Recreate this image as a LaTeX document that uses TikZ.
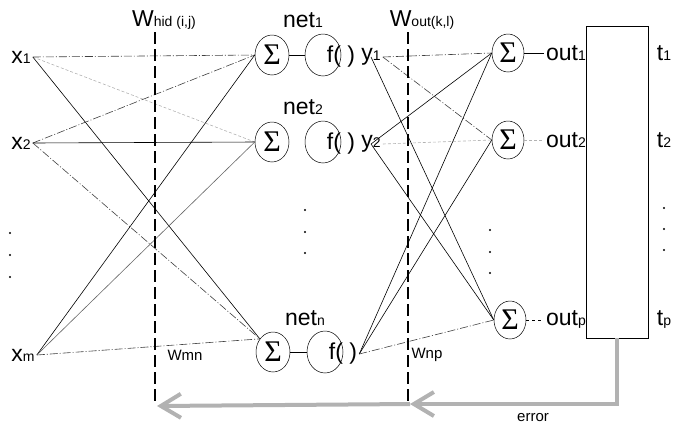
\documentclass[tikz,border=0pt]{standalone}
\usepackage{fontspec}
\setmainfont{Liberation Sans}
\newfontfamily\sigmafont{Liberation Serif}
\usepackage{tikz}
\usetikzlibrary{arrows.meta,shapes.geometric}
\newcommand{\lo}[1]{{\fontsize{14}{14}\selectfont #1}}

\begin{document}
\begin{tikzpicture}[x=1pt,y=-1pt,
  lbl/.style={inner sep=2pt,font=\fontsize{23}{23}\selectfont},
  wlbl/.style={inner sep=1pt,font=\fontsize{15}{15}\selectfont},
  sumnode/.style={draw,ellipse,line width=0.5pt,minimum width=34pt,minimum height=40pt,inner sep=0pt,font=\fontsize{30}{30}\sigmafont},
  actnode/.style={draw,ellipse,line width=0.5pt,minimum width=36pt,minimum height=42pt},
  wline/.style={line width=0.6pt},
  wdash/.style={line width=0.6pt,gray!50!black,dash pattern=on 8pt off 2pt on 1pt off 2pt},
  wdot/.style={line width=0.6pt,gray!60,dash pattern=on 3pt off 2pt},
  wsplit/.style={line width=2.2pt,dash pattern=on 12pt off 5pt},
  errarrow/.style={gray!60,line width=4pt,-{Straight Barb[length=20pt,width=24pt]}},
  smalldot/.style={circle,fill,inner sep=0pt,minimum size=2.2pt}]
\useasboundingbox (0,0) rectangle (674,424);
% inputs
\node[lbl] (x1) at (21,57) {x\lo{1}}; \node[lbl] (x2) at (21,143) {x\lo{2}}; \node[lbl] (xm) at (23,355) {x\lo{m}};
\foreach \y in {233,255,277} {\node[smalldot] (in\y) at (10,\y) {};}
% hidden layer
\node[sumnode] (s1) at (272,55) {Σ}; \node[actnode] (f1) at (323,55) {}; \node[lbl] (f1l) at (341,57) {f( )};
\node[sumnode] (s2) at (272,142) {Σ}; \node[actnode] (f2) at (323,142) {}; \node[lbl] (f2l) at (341,144) {f( )};
\node[sumnode] (sn) at (273,352) {Σ}; \node[actnode] (fn) at (325,352) {}; \node[lbl] (fnl) at (343,354) {f( )};
\node[lbl] (n1) at (303,20) {net\lo{1}}; \node[lbl] (n2) at (303,107) {net\lo{2}}; \node[lbl] (nn) at (305,318) {net\lo{n}};
\node[lbl] (y1) at (371,57) {y\lo{1}}; \node[lbl] (y2) at (371,144) {y\lo{2}};
\draw[wline] (s1) -- (f1); \draw[wline] (sn) -- (fn);
\foreach \y in {210,232,253} {\node[smalldot] (hd\y) at (305,\y) {};}
% output layer
\node[sumnode,minimum width=32pt,minimum height=38pt] (o1) at (508,53) {Σ};
\node[sumnode,minimum width=32pt,minimum height=38pt] (o2) at (508,140) {Σ};
\node[sumnode,minimum width=32pt,minimum height=38pt] (op) at (510,320) {Σ};
\node[lbl] (out1) at (566,53) {out\lo{1}}; \node[lbl] (out2) at (566,140) {out\lo{2}}; \node[lbl] (outp) at (566,320) {out\lo{p}};
\draw[wline] (o1) -- (out1); \draw[wdot] (o2) -- (out2); \draw[wline,dashed] (op) -- (outp);
\foreach \y in {230,252,273} {\node[smalldot] (od\y) at (490,\y) {};}
% targets
\node[draw,line width=0.6pt,minimum width=62pt,minimum height=312pt,inner sep=0pt] (tbox) at (617,182) {};
\node[lbl] (t1) at (664,53) {t\lo{1}}; \node[lbl] (t2) at (664,140) {t\lo{2}}; \node[lbl] (tp) at (664,320) {t\lo{p}};
\foreach \y in {208,229,250} {\node[smalldot] (td\y) at (664,\y) {};}
% input -> hidden weights
\draw[wdash] (x1.east) -- (s1.west); \draw[wdot] (x1.east) -- (s2.west); \draw[wline] (x1.east) -- (sn.135);
\draw[wdash] (x2.east) -- (s1.west); \draw[wline] (x2.east) -- (s2.west); \draw[wdash] (x2.east) -- (sn.135);
\draw[wline] (xm.east) -- (s1.west); \draw[wline,gray!80!black] (xm.east) -- (s2.west); \draw[wdash] (xm.east) -- (sn.135);
% hidden -> output weights
\draw[wdash] (y1.east) -- (o1.west); \draw[wdash] (y1.east) -- (o2.west); \draw[wline] (y1.center) -- (op.west);
\draw[wline] (y2.center) -- (o1.west); \draw[wdot] (y2.east) -- (o2.west); \draw[wline] (y2.center) -- (op.west);
\draw[wline] (fnl.east) -- (o1.west); \draw[wline] (fnl.east) -- (o2.west); \draw[wdash] (fnl.east) -- (op.west);
% weight planes
\coordinate (hidtop) at (155,32); \coordinate (hidbot) at (155,405);
\coordinate (outtop) at (408,32); \coordinate (outbot) at (408,402);
\draw[wsplit] (hidtop) -- (hidbot); \draw[wsplit] (outtop) -- (outbot);
\node[lbl] (whid) at (164,20) {W\lo{hid (i,j)}}; \node[lbl] (wout) at (422,20) {W\lo{out(k,l)}};
\node[wlbl] (wmn) at (185,355) {Wmn}; \node[wlbl] (wnp) at (427,355) {Wnp};
% error feedback
\coordinate (eout) at (410,404); \coordinate (ehid) at (157,406);
\draw[errarrow] (tbox.south) |- (eout);
\draw[errarrow] (eout) -- (ehid);
\node[wlbl] (err) at (533,418) {error};
\end{tikzpicture}
\end{document}
